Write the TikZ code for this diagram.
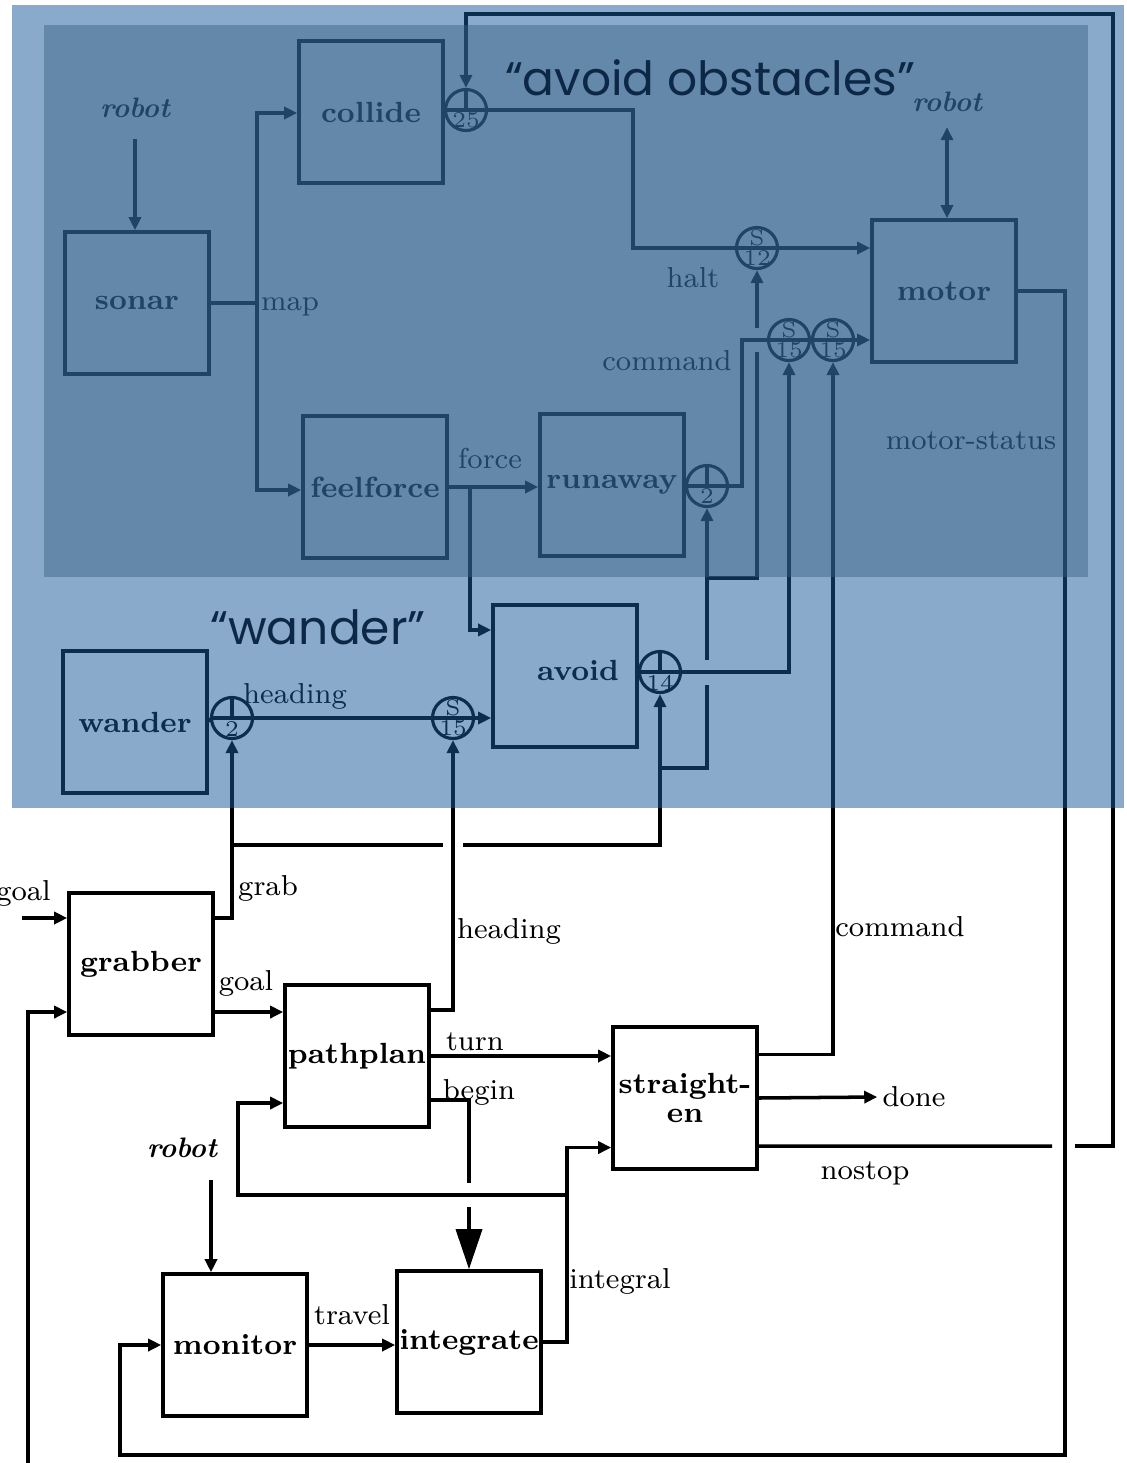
\documentclass[tikz,border=0pt]{standalone}
\usepackage{fontspec}
\newfontfamily\notefont{Poppins}
\usetikzlibrary{arrows.meta}
\definecolor{paleblue}{RGB}{24,90,153}
\definecolor{deepblue}{RGB}{56,96,132}
\definecolor{notecol}{RGB}{12,40,70}
\tikzset{
  block/.style={draw, minimum width=1.44cm, minimum height=1.42cm, inner sep=0pt, align=center,
    font=\fontsize{8.3}{8.1}\selectfont\bfseries},
  blocktext/.style={inner sep=0pt, font=\fontsize{8.3}{8.1}\selectfont\bfseries},
  sig/.style={inner sep=1pt, font=\fontsize{8.2}{9}\selectfont},
  robot/.style={inner sep=1pt, font=\fontsize{8}{9}\selectfont\bfseries\itshape},
  tag/.style={inner sep=0pt, font=\fontsize{6.4}{6.4}\selectfont},
  junc/.style={circle, draw, minimum size=4.1mm, inner sep=0pt, line width=.9pt},
  sup/.style={junc, path picture={
      \draw (path picture bounding box.west) -- (path picture bounding box.east);
      \node[tag] at ([yshift=1mm]path picture bounding box.center) {S};
      \node[tag] at ([yshift=-1.05mm]path picture bounding box.center) {#1};}},
  inh/.style={junc, path picture={
      \draw (path picture bounding box.west) -- (path picture bounding box.east)
        (path picture bounding box.north) -- (path picture bounding box.center);
      \node[tag] at ([yshift=-1.05mm]path picture bounding box.center) {#1};}},
  note/.style={text=notecol, inner sep=0pt, font=\notefont\fontsize{13.4}{16}\selectfont}
}
\begin{document}
\begin{tikzpicture}[x=0.01cm, y=-0.01cm, line width=1pt, >={Triangle[length=1.3mm,width=1.2mm]}]
\fill[white] (0,0) rectangle (1127,1463);
\useasboundingbox (0,0) rectangle (1127,1463);
% level 0: avoid obstacles
\node[block] (sonar) at (137,303) {sonar};
\node[block] (collide) at (371,112) {collide};
\node[block] (feelforce) at (375,487) {feelforce};
\node[block] (runaway) at (612,485) {runaway};
\node[block] (motor) at (944,291) {motor};
\node[inh=25] (i25) at (466,110) {};
\node[sup=12] (s12) at (757,248) {};
\node[sup=15] (s15a) at (789,340) {};
\node[sup=15] (s15b) at (833,340) {};
\node[inh=2] (i2r) at (707,486) {};
\path
  (135,108) node[robot] (robotA) {robot}
  (947,102) node[robot] (robotC) {robot}
  (290,307) node[sig] (mapL) {map}
  (490,458) node[sig] (forceL) {force}
  (693,278) node[sig] (haltL) {halt}
  (667,361) node[sig] (cmdL) {command}
  (971,441) node[sig] (statusL) {motor-status};
% level 1: wander
\node[block] (wander) at (135,722) {wander};
\node[block] (avoid) at (565,676) {};
\node[blocktext] (avoidT) at (578,670) {avoid};
\node[inh=2] (i2w) at (232,718) {};
\node[sup=15] (s15w) at (453,718) {};
\node[inh=14] (i14) at (660,672) {};
\node[sig] (headL) at (295,696) {heading};
% level 2
\node[block] (grabber) at (141,964) {grabber};
\node[block] (pathplan) at (357,1056) {pathplan};
\node[block] (straighten) at (685,1098) {straight-\\en};
\node[block] (monitor) at (235,1345) {monitor};
\node[block] (integrate) at (469,1342) {integrate};
\path
  (56,893) node[sig, anchor=east] (goalL) {goal}
  (268,888) node[sig] (grabL) {grab}
  (246,983) node[sig] (goalM) {goal}
  (509,931) node[sig] (headM) {heading}
  (475,1042) node[sig] (turnL) {turn}
  (479,1092) node[sig] (beginL) {begin}
  (900,927) node[sig] (cmdM) {command}
  (914,1097) node[sig] (doneL) {done}
  (865,1173) node[sig] (nostopL) {nostop}
  (620,1281) node[sig] (integralL) {integral}
  (352,1315) node[sig] (travelL) {travel}
  (182,1148) node[robot] (robotB) {robot};
% map bus
\coordinate (mapT) at (257,113);
\coordinate (mapB) at (257,490);
\draw[->, shorten <=1.6mm] (robotA.south) -- (robotA.south |- sonar.north);
\draw (sonar.east) -- (sonar.east -| mapT);
\draw[<->] (mapT -| collide.west) -- (mapT) -- (mapB) -- (mapB -| feelforce.west);
\draw (collide.east) -- (i25.west);
\coordinate (haltK) at (633,248);
\draw (i25.east) -| (haltK) -- (s12.west);
\draw[->] (s12.east) -- (s12.east -| motor.west);
\draw[<->, shorten <=1mm] (robotC.south) -- (robotC.south |- motor.north);
\draw[->] (feelforce.east) -- (feelforce.east -| runaway.west);
\coordinate (forceK) at (470,487);
\draw[->] (forceK) |- ([yshift=4.6mm]avoid.west);
\draw (runaway.east) -- (i2r.west);
\coordinate (cmdK) at (742,340);
\draw (i2r.east) -| (cmdK) -- (s15a.west);
\draw (s15a.east) -- (s15b.west);
\draw[->] (s15b.east) -- (s15b.east -| motor.west);
% wander heading
\draw (wander.east) -- (i2w.west);
\draw (i2w.east) -- (s15w.west);
\draw[->] (s15w.east) -- (s15w.east -| avoid.west);
\draw (avoid.east) -- (i14.west);
\draw[->] (i14.east) -| (s15a.south);
% grab
\coordinate (grabK) at (232,845);
\coordinate (grabGapL) at (443,845);
\coordinate (grabGapR) at (463,845);
\coordinate (grabM) at (660,768);
\coordinate (grabHalt) at (707,578);
\coordinate (runGapL) at (707,685);
\coordinate (runGapU) at (707,660);
\coordinate (haltGapL) at (757,352);
\coordinate (haltGapU) at (757,328);
\draw[->] ([yshift=4.6mm]grabber.east) -| (i2w.south);
\draw (grabK) -- (grabGapL);
\draw[->] (grabGapR) -| (i14.south);
\draw (grabM) -| (runGapL);
\draw[->] (runGapU) -- (i2r.south);
\draw (grabHalt) -| (haltGapL);
\draw[->] (haltGapU) -- (s12.south);
% pathplan
\coordinate (goalS) at (22,918);
\draw[->] (goalS) -- (goalS -| grabber.west);
\draw[->] ([yshift=-4.8mm]grabber.east) -- ([yshift=-4.8mm]grabber.east -| pathplan.west);
\draw[->] ([yshift=4.6mm]pathplan.east) -| (s15w.south);
\draw[->] (pathplan.east) -- (pathplan.east -| straighten.west);
\coordinate (beginGapU) at (469,1183);
\coordinate (beginGapL) at (469,1207);
\draw ([yshift=-4.4mm]pathplan.east) -| (beginGapU);
\draw[-{Triangle[length=4mm,width=2.6mm]}] (beginGapL) -- (integrate.north);
\coordinate (intK) at (567,1195);
\coordinate (loopK) at (238,1195);
\draw[->] (integrate.east) -| (intK) |- ([yshift=-4.95mm]straighten.west);
\draw[->] (intK) -- (loopK) |- ([yshift=-4.7mm]pathplan.west);
\coordinate (robotS) at (211,1180);
\draw[->] (robotS) -- (robotS |- monitor.north);
\draw[->] (monitor.east) -- (monitor.east -| integrate.west);
% straighten outputs
\draw[->] ([yshift=4.35mm]straighten.east) -| (s15b.south);
\draw[->] (straighten.east) -- (doneL.west);
\coordinate (nsGapL) at (1052,1146);
\coordinate (nsGapR) at (1075,1146);
\coordinate (nsTop) at (1113,14);
\draw ([yshift=-4.8mm]straighten.east) -- (nsGapL);
\draw[->] (nsGapR) -| (nsTop) -| (i25.north);
% motor-status
\coordinate (msB) at (1065,1455);
\coordinate (msL) at (120,1455);
\draw[->] (motor.east) -| (msB) -- (msL) |- (monitor.west);
\coordinate (fbS) at (28,1475);
\draw[->] (fbS) |- ([yshift=-4.8mm]grabber.west);
% tinted layers
\fill[paleblue, fill opacity=.51] (12,5) rectangle (1124,808);
\fill[deepblue, fill opacity=.45] (44,25) rectangle (1088,577);
\node[note] (avoidNote) at (710,78) {“avoid obstacles”};
\node[note] (wanderNote) at (318,627) {“wander”};
\end{tikzpicture}
\end{document}
